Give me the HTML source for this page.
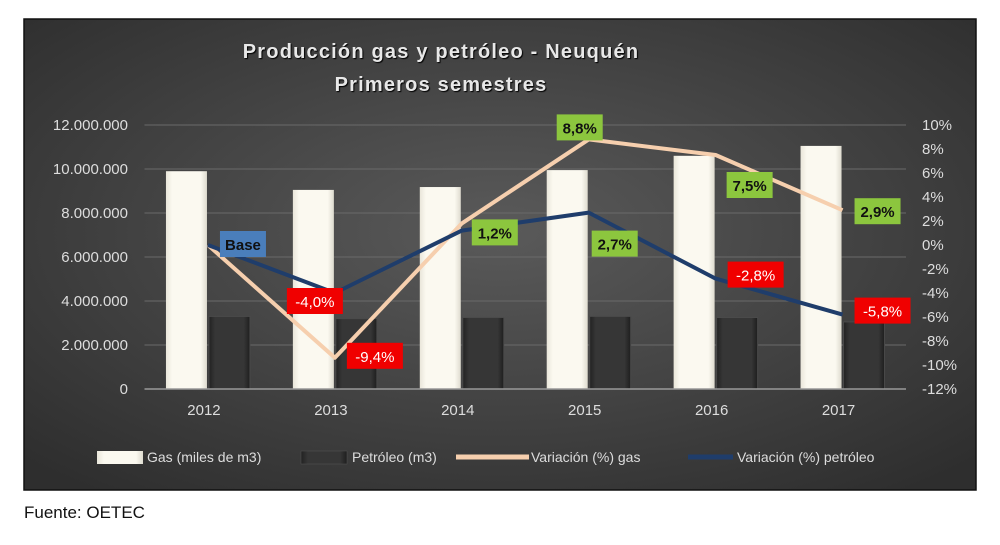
<!DOCTYPE html>
<html><head><meta charset="utf-8"><style>
body{margin:0;background:#fff;width:1000px;height:540px;overflow:hidden;font-family:"Liberation Sans",sans-serif}
</style></head><body>
<svg width="1000" height="540" xmlns="http://www.w3.org/2000/svg">
<defs>
<radialGradient id="bg" cx="0.5" cy="0.45" r="0.7">
<stop offset="0" stop-color="#5a5a5a"/><stop offset="1" stop-color="#2e2e2e"/></radialGradient>
<linearGradient id="gasg" x1="0" x2="1"><stop offset="0" stop-color="#e9e6da"/><stop offset="0.15" stop-color="#fbf9f0"/><stop offset="0.85" stop-color="#fbf9f0"/><stop offset="1" stop-color="#dedbcf"/></linearGradient>
<linearGradient id="oilg" x1="0" x2="1"><stop offset="0" stop-color="#222"/><stop offset="0.15" stop-color="#363636"/><stop offset="0.85" stop-color="#363636"/><stop offset="1" stop-color="#1e1e1e"/></linearGradient>
</defs>
<rect x="24" y="19" width="952" height="471" fill="url(#bg)" stroke="#111" stroke-width="1.5"/>
<g font-weight="bold" font-size="20" fill="#e8e8e8" text-anchor="middle" letter-spacing="1.2" style="text-shadow:1px 1px 1px #000">
<text x="441" y="58">Producción gas y petróleo - Neuquén</text>
<text x="441" y="91">Primeros semestres</text>
</g>
<g id="grid"></g><g id="bars"></g><g id="lines"></g><g id="labels"></g><g id="axes"></g>
<g font-size="14" fill="#ddd">
<rect x="97" y="451" width="46" height="13" fill="url(#gasg)"/>
<text x="147" y="462">Gas (miles de m3)</text>
<rect x="301" y="451" width="46" height="13" fill="url(#oilg)" stroke="#555" stroke-width="0.5"/>
<text x="352" y="462">Petróleo (m3)</text>
<line x1="456" y1="457" x2="529" y2="457" stroke="#f6cfae" stroke-width="5"/>
<text x="531" y="462">Variación (%) gas</text>
<line x1="688" y1="457" x2="733" y2="457" stroke="#1f3d6b" stroke-width="5"/>
<text x="737" y="462">Variación (%) petróleo</text>
</g>
<text x="24" y="518" font-size="17" fill="#111">Fuente: OETEC</text>
</svg>
<script>
const categories=["2012","2013","2014","2015","2016","2017"];
const gasProd=[9.9,9.05,9.18,9.95,10.6,11.05];
const oilProd=[3.3,3.2,3.25,3.3,3.25,3.05];
const gasVar=[0,-9.4,1.8,8.8,7.5,2.9];
const oilVar=[0,-4.0,1.2,2.7,-2.8,-5.8];
const leftTicks=[0,2,4,6,8,10,12];
const leftTickLabels=["0","2.000.000","4.000.000","6.000.000","8.000.000","10.000.000","12.000.000"];
const rightTicks=[10,8,6,4,2,0,-2,-4,-6,-8,-10,-12];
const labelTexts=["Base","-4,0%","-9,4%","1,2%","8,8%","2,7%","7,5%","-2,8%","2,9%","-5,8%"];
const labelSeries=["oil","oil","gas","gas","gas","oil","gas","oil","gas","oil"];
const labelIdx=[0,1,1,2,3,3,4,4,5,5];
const labelOff=[[12,-14],[-48,-5],[12,-15],[10,-4],[-32,-25],[3,18],[11,17],[12,-17],[12,-12],[12,-17]];

const NS="http://www.w3.org/2000/svg";
const L=144.5,R=906,T=125,B=389,step=(R-L)/categories.length;
const yL=v=>B-(v/12)*(B-T);
const yR=v=>B-((v+12)/22)*(B-T);
const xc=i=>L+step*(i+0.5);
function mk(t,a,p){const e=document.createElementNS(NS,t);for(const k in a)e.setAttribute(k,a[k]);p.appendChild(e);return e;}
const grid=document.getElementById('grid'),bars=document.getElementById('bars'),lines=document.getElementById('lines'),labels=document.getElementById('labels'),axes=document.getElementById('axes');
leftTicks.forEach((t,i)=>{
 if(t>0){const g=mk('line',{x1:L,x2:R,y1:yL(t),y2:yL(t),stroke:'#6a6a6a','stroke-width':1},grid);
 
 }
 const tx=mk('text',{x:128,y:yL(t)+5,'text-anchor':'end','font-size':15,fill:'#ddd'},axes);tx.textContent=leftTickLabels[i];
 
 
});
rightTicks.forEach(t=>{
 const tx=mk('text',{x:922,y:yR(t)+5,'font-size':15,fill:'#ddd'},axes);tx.textContent=t+'%';
 
 
});
const ax=mk('line',{x1:L,x2:R,y1:B,y2:B,stroke:'#999','stroke-width':1.5},axes);


categories.forEach((c,i)=>{
 const tx=mk('text',{x:xc(i)-4,y:415,'text-anchor':'middle','font-size':15,fill:'#ddd'},axes);tx.textContent=c;
 
 
 const g=mk('rect',{x:xc(i)-42,y:yL(gasProd[i]),width:41,height:B-yL(gasProd[i]),fill:'url(#gasg)'},bars);
 
 
 const o=mk('rect',{x:xc(i)+1,y:yL(oilProd[i]),width:41,height:B-yL(oilProd[i]),fill:'url(#oilg)',stroke:'#4a4a4a','stroke-width':1},bars);
 
 
});
function line(vals,col,name){
 const p=mk('polyline',{points:vals.map((v,i)=>xc(i)+','+yR(v)).join(' '),fill:'none',stroke:col,'stroke-width':4,'stroke-linejoin':'round'},lines);
 
 
}
line(gasVar,'#f6cfae','line-gas-variation');
line(oilVar,'#1f3d6b','line-oil-variation');
labelTexts.forEach((t,k)=>{
 const i=labelIdx[k],v=(labelSeries[k]=='gas'?gasVar:oilVar)[i];
 const x=xc(i)+labelOff[k][0],y=yR(v)+labelOff[k][1];
 const col=t=='Base'?'#4a7ebb':(t[0]=='-'?'#f00000':'#8cc63e');
 const w=t.length>4?(t[0]=='-'?56:47):46;
 const g=mk('g',{},labels);
 
 
 mk('rect',{x:x,y:y,width:w,height:26,fill:col},g);
 const tx=mk('text',{x:x+w/2,y:y+19,'text-anchor':'middle','font-size':15,'font-weight':t=='Base'||t[0]!='-'?'bold':'normal',fill:t[0]=='-'?'#fff':'#111'},g);tx.textContent=t;
});
</script>
</body></html>
